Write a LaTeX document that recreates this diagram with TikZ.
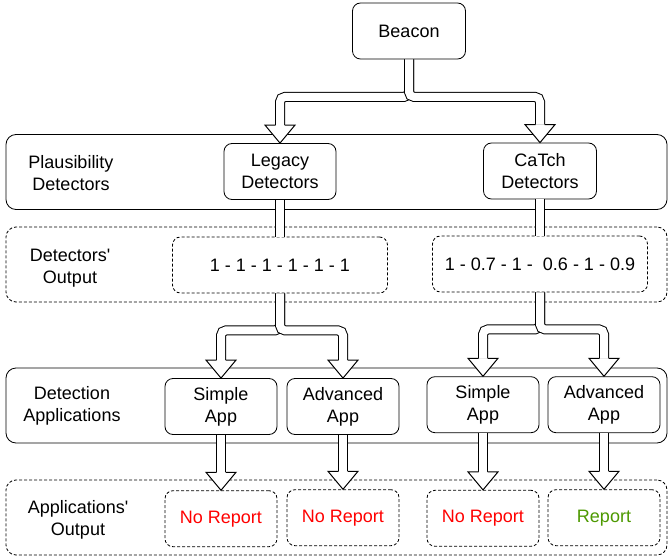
\documentclass[tikz,border=0pt]{standalone}
\usepackage{fontspec}
\setmainfont{Liberation Sans}[Ligatures=TeXOff]
\usetikzlibrary{calc}

\definecolor{noreport}{HTML}{FF0000}
\definecolor{report}{HTML}{4D9900}

\tikzset{
    box/.style={draw,line width=0.8pt,rounded corners=8pt,fill=white,inner sep=0pt,
        minimum width=112pt,minimum height=56pt,align=center},
    dbox/.style={box,dash pattern=on 3pt off 2pt},
    group/.style={draw,line width=0.8pt,rounded corners=10pt,inner sep=0pt,
        minimum width=661pt,minimum height=75pt},
    dgroup/.style={group,dash pattern=on 3pt off 2pt},
    grouptext/.style={align=center,inner sep=0pt},
    flow/.style={line width=1pt,double=white,double distance=8pt,rounded corners=5pt},
    tiphead/.pic={
        \filldraw[fill=white,line width=1pt,line join=miter]
            (-4.5,-18) -- (-15,-18) -- (0,0) -- (15,-18) -- (4.5,-18);
    }
}

\begin{document}
\begin{tikzpicture}[x=1pt,y=-1pt,font=\fontsize{18}{22}\selectfont]
    \useasboundingbox (0,0) rectangle (669,556);

    % the four layers
    \node[group]  (plaus)   at (336.5,172)   {};
    \node[dgroup] (detout)  at (336.5,264.5) {};
    \node[group]  (detapp)  at (336.5,405.5) {};
    \node[dgroup] (appout)  at (336.5,517.5) {};
    \node[grouptext] (plaustext)  at (71,173)   {Plausibility\\Detectors};
    \node[grouptext] (detouttext) at (70,268.5) {Detectors'\\Output};
    \node[grouptext] (detapptext) at (72,406)   {Detection\\Applications};
    \node[grouptext] (appouttext) at (78,520)   {Applications'\\Output};

    % boxes
    \node[box,minimum width=113pt] (beacon) at (409,31) {Beacon};
    \node[box] (legacy) at (280,171.5) {Legacy\\Detectors};
    \node[box,minimum width=113pt] (catch) at (540,171) {CaTch\\Detectors};
    \node[dbox,minimum width=215pt] (legacyout) at (280,265) {1 - 1 - 1 - 1 - 1 - 1};
    \node[dbox,minimum width=215pt] (catchout) at (540,264) {1 - 0.7 - 1 -\ \ 0.6 - 1 - 0.9};
    \node[box] (simplea) at (221,406.5) {Simple\\App};
    \node[box] (advanca) at (343,406.5) {Advanced\\App};
    \node[box] (simpleb) at (483,404.7) {Simple\\App};
    \node[box] (advancb) at (604,404.7) {Advanced\\App};
    \node[dbox,text=noreport] (repa) at (221,518.7) {No Report};
    \node[dbox,text=noreport] (repb) at (343,517.7) {No Report};
    \node[dbox,text=noreport] (repc) at (483,518.3) {No Report};
    \node[dbox,text=report]   (repd) at (604,517.7) {Report};

    % beacon to detectors
    \draw[flow] (beacon.south) -- ++(0,37.5) -| ($(legacy.north)+(0,-18)$);
    \draw[flow] (beacon.south) -- ++(0,37.5) -| ($(catch.north)+(0,-18)$);
    \path (legacy.north) pic {tiphead};
    \path (catch.north) pic {tiphead};

    % detectors to outputs
    \draw[flow] (legacy.south) -- (legacy.south |- legacyout.north);
    \draw[flow] (catch.south) -- (catch.south |- catchout.north);

    % outputs to applications
    \draw[flow] (legacyout.south) -- ++(0,37) -| ($(simplea.north)+(0,-18)$);
    \draw[flow] (legacyout.south) -- ++(0,37) -| ($(advanca.north)+(0,-18)$);
    \draw[flow] (catchout.south) -- ++(0,37) -| ($(simpleb.north)+(0,-18)$);
    \draw[flow] (catchout.south) -- ++(0,37) -| ($(advancb.north)+(0,-18)$);
    \path (simplea.north) pic {tiphead};
    \path (advanca.north) pic {tiphead};
    \path (simpleb.north) pic {tiphead};
    \path (advancb.north) pic {tiphead};

    % applications to reports
    \draw[flow] (simplea.south) -- ($(simplea.south |- repa.north)+(0,-18)$);
    \draw[flow] (advanca.south) -- ($(advanca.south |- repb.north)+(0,-18)$);
    \draw[flow] (simpleb.south) -- ($(simpleb.south |- repc.north)+(0,-18)$);
    \draw[flow] (advancb.south) -- ($(advancb.south |- repd.north)+(0,-18)$);
    \path (simplea.south |- repa.north) pic {tiphead};
    \path (advanca.south |- repb.north) pic {tiphead};
    \path (simpleb.south |- repc.north) pic {tiphead};
    \path (advancb.south |- repd.north) pic {tiphead};
\end{tikzpicture}
\end{document}
